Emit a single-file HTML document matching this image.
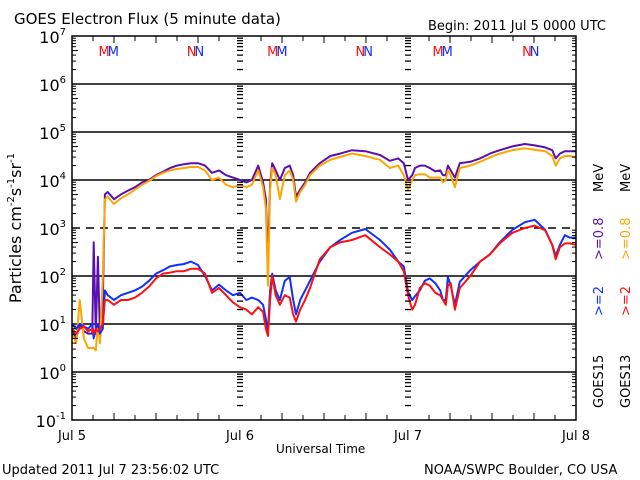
<!DOCTYPE html>
<html><head><meta charset="utf-8"><style>
body{margin:0;background:#fff}
svg{display:block;font-family:"DejaVu Sans","Liberation Sans",sans-serif}
</style></head><body>
<svg id="c" width="640" height="480" viewBox="0 0 640 480">
<text x="14" y="24" font-size="15">GOES Electron Flux (5 minute data)</text>
<text x="428" y="30" font-size="13">Begin: 2011 Jul 5 0000 UTC</text>
<text x="2" y="474" font-size="13">Updated 2011 Jul  7 23:56:02 UTC</text>
<text x="424" y="474" font-size="13">NOAA/SWPC Boulder, CO USA</text>
<text x="276" y="453" font-size="12">Universal Time</text>
<text transform="translate(21,228) rotate(-90)" text-anchor="middle" font-size="16">Particles cm<tspan font-size="10" dy="-7">-2</tspan><tspan dy="7">s</tspan><tspan font-size="10" dy="-7">-1</tspan><tspan dy="7">sr</tspan><tspan font-size="10" dy="-7">-1</tspan></text>
<g font-size="13">
<text transform="translate(603,408) rotate(-90)">GOES15</text>
<text transform="translate(630,408) rotate(-90)">GOES13</text>
<text transform="translate(603,316) rotate(-90)" fill="#1030ff">&gt;=2</text>
<text transform="translate(630,316) rotate(-90)" fill="#ff1010">&gt;=2</text>
<text transform="translate(603,260) rotate(-90)" fill="#5a10b0">&gt;=0.8</text>
<text transform="translate(630,260) rotate(-90)" fill="#ffa500">&gt;=0.8</text>
<text transform="translate(603,192) rotate(-90)">MeV</text>
<text transform="translate(630,192) rotate(-90)">MeV</text>
</g>
<g id="grid"></g><g id="series"></g><g id="axes"></g>
</svg>
<script>
const hours=[0,0.6,1.1,1.7,2.3,2.9,3.1,3.4,3.7,4.0,4.4,4.7,5.1,6,7,8,9,10,11,12,13,14,15,16,17,18,19,20,21,22,23,24,24.9,25.7,26.6,27.3,27.7,28,28.3,28.6,29.1,29.7,30.4,31.1,31.6,32,32.6,33.3,34,35.4,36.9,38.3,40,41.9,44,45.4,46.6,47.4,48,48.6,49,49.7,50.4,51.1,51.9,52.6,53,53.4,53.7,54.1,54.7,55.4,56.9,58.3,59.7,61.1,62.9,64.7,66.1,67.6,68.6,69.1,69.7,70.4,71.1,72];
const g15e08=[0.9,0.7,1.0,0.85,0.8,0.8,2.7,0.8,2.4,0.7,1.5,3.7,3.75,3.6,3.7,3.78,3.85,3.95,4.0,4.1,4.17,4.25,4.3,4.33,4.35,4.35,4.3,4.15,4.2,4.1,4.05,4.0,3.95,4.0,4.3,3.95,3.6,2.3,3.9,4.35,4.2,4.0,4.25,4.3,4.1,3.65,3.8,3.95,4.15,4.35,4.5,4.55,4.62,4.6,4.52,4.4,4.45,4.35,4.0,4.1,4.25,4.3,4.3,4.25,4.18,4.2,4.1,4.1,4.3,4.2,4.05,4.35,4.38,4.45,4.55,4.62,4.7,4.75,4.72,4.68,4.62,4.45,4.55,4.6,4.6,4.6];
const g13e08=[0.8,0.6,1.5,0.7,0.5,0.5,0.5,0.45,1.0,0.6,2.0,3.6,3.65,3.5,3.62,3.7,3.8,3.9,3.98,4.08,4.15,4.2,4.23,4.25,4.27,4.27,4.2,4.0,4.05,3.9,3.85,3.9,3.85,3.9,4.2,3.85,3.4,1.8,3.8,4.25,4.1,3.6,4.1,4.2,4.0,3.55,3.75,3.9,4.1,4.3,4.42,4.48,4.55,4.5,4.42,4.25,4.3,4.1,3.8,4.0,4.1,4.12,4.12,4.05,4.05,4.05,3.95,4.0,4.2,4.1,3.85,4.25,4.3,4.38,4.47,4.55,4.62,4.66,4.63,4.6,4.5,4.3,4.45,4.5,4.5,4.48];
const g15e2=[1.0,0.9,1.0,0.95,0.9,1.0,0.7,0.9,1.0,0.8,0.9,1.7,1.6,1.5,1.6,1.65,1.7,1.78,1.9,2.05,2.12,2.2,2.23,2.25,2.3,2.23,2.0,1.7,1.82,1.7,1.6,1.65,1.5,1.55,1.5,1.4,1.1,0.85,1.7,2.05,1.7,1.5,1.9,1.98,1.5,1.2,1.5,1.7,1.9,2.3,2.6,2.75,2.9,2.98,2.75,2.55,2.3,2.2,1.67,1.5,1.58,1.7,1.9,1.95,1.85,1.7,1.5,1.5,1.98,1.8,1.4,1.88,2.12,2.3,2.45,2.7,2.96,3.12,3.17,2.96,2.65,2.42,2.65,2.85,2.8,2.8];
const g13e2=[0.9,0.8,0.9,0.95,0.85,0.9,0.8,0.9,0.85,0.9,1.0,1.5,1.5,1.4,1.5,1.5,1.55,1.65,1.78,1.95,2.05,2.07,2.1,2.1,2.15,2.15,2.05,1.65,1.75,1.6,1.45,1.35,1.3,1.2,1.35,1.25,0.9,0.75,1.5,2.0,1.6,1.4,1.6,1.55,1.2,1.05,1.3,1.5,1.75,2.35,2.6,2.7,2.75,2.85,2.6,2.45,2.3,2.1,1.6,1.3,1.4,1.75,1.85,1.8,1.65,1.6,1.5,1.4,1.8,1.85,1.3,1.75,2.0,2.3,2.45,2.68,2.9,3.0,3.05,2.95,2.65,2.35,2.6,2.68,2.68,2.65];
const yTickExp=[7,6,5,4,3,2,1,0,-1];
const dayLabels=["Jul 5","Jul 6","Jul 7","Jul 8"];
const markerHours=[5.1,17.5,29.2,41.6,52.8,65.4];
const markerLabels=["MM","NN","MM","NN","MM","NN"];

const L=72,R=576,T=36,B=420;
const xs=h=>L+(R-L)*h/72;
const ys=e=>T+(B-T)*(7-e)/8;
const NS="http://www.w3.org/2000/svg";
function mk(tag,attrs,parent){const el=document.createElementNS(NS,tag);for(const k in attrs)el.setAttribute(k,attrs[k]);parent.appendChild(el);return el;}
const grid=document.getElementById('grid'),axes=document.getElementById('axes'),ser=document.getElementById('series');

yTickExp.forEach(e=>{
  const y=ys(e);
  if(e<7&&e>-1){const ln=mk('line',{x1:L,x2:R,y1:y,y2:y,stroke:'#000','stroke-width':1.5,'stroke-dasharray':e===3?'8,6':'none'},grid);
  
  }
  const t=mk('text',{x:L-6,y:y+7,'text-anchor':'end','font-size':16},axes);
  
  
  t.textContent='10';
  const s=mk('tspan',{dy:-8,'font-size':10},t);s.textContent=String(e);
  if(e>-1){for(let m=2;m<10;m++){const yy=ys(e-1+Math.log10(m));
    mk('line',{x1:L,x2:L+(m===5?6:4),y1:yy,y2:yy,stroke:'#000'},axes);
    mk('line',{x1:R,x2:R-4,y1:yy,y2:yy,stroke:'#000'},axes);
    [1,2].forEach(d=>{mk('line',{x1:xs(24*d)-3,x2:xs(24*d)+3,y1:yy,y2:yy,stroke:'#000','stroke-width':1.3},axes);});
  }}
});
for(let h=3;h<72;h+=3){const x=xs(h);const len=h%24===0?0:(h%6===0?7:5);
  if(len){mk('line',{x1:x,x2:x,y1:B,y2:B-len,stroke:'#000'},axes);mk('line',{x1:x,x2:x,y1:T,y2:T+len,stroke:'#000'},axes);}}
dayLabels.forEach((d,i)=>{const t=mk('text',{x:xs(24*i),y:440,'text-anchor':'middle','font-size':13},axes);
  
  
  t.textContent=d;});
markerHours.forEach((h,i)=>{const t=mk('text',{x:xs(h),y:56,'text-anchor':'middle','font-size':13,'letter-spacing':'-2'},axes);
  
  
  const a=mk('tspan',{fill:'#ff1010'},t);a.textContent=markerLabels[i][0];
  const b=mk('tspan',{fill:'#1030ff'},t);b.textContent=markerLabels[i][1];});
mk('rect',{x:L,y:T,width:R-L,height:B-T,fill:'none',stroke:'#000','stroke-width':1.5},axes);

function line(vals,color,name){let d='';const n=Math.min(vals.length,hours.length);
  for(let i=0;i<n;i++){const x=xs(hours[i]),y=ys(vals[i]);d+=(i?' L':'M')+x.toFixed(1)+' '+y.toFixed(1);}
  const p=mk('path',{d:d,fill:'none',stroke:color,'stroke-width':2,'stroke-linejoin':'round'},ser);
  
  }
line(g15e08,'#5a10b0','series-goes15-0.8mev');
line(g13e08,'#ffa500','series-goes13-0.8mev');
line(g15e2,'#1030ff','series-goes15-2mev');
line(g13e2,'#ff1010','series-goes13-2mev');
</script>
</body></html>
